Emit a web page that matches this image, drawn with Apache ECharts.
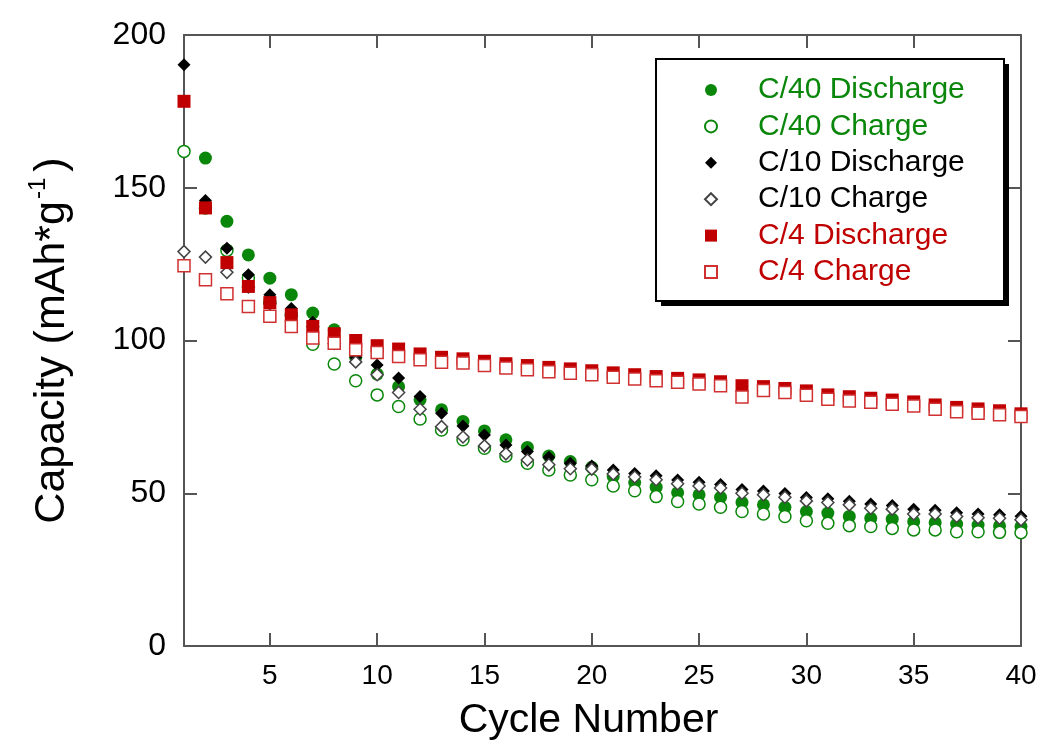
<!DOCTYPE html>
<html>
<head>
<meta charset="utf-8">
<script src="https://cdn.jsdelivr.net/npm/echarts@6/dist/echarts.min.js"></script>
<style>
html,body{margin:0;padding:0;background:#fff;}
#chart{width:1041px;height:749px;}
</style>
</head>
<body>
<div id="chart"></div>
<script>
// ---- data ----
var cycles = [1,2,3,4,5,6,7,8,9,10,11,12,13,14,15,16,17,18,19,20,21,22,23,24,25,26,27,28,29,30,31,32,33,34,35,36,37,38,39,40];
var xTicks = [5,10,15,20,25,30,35,40];
var seriesNames = ['C/40 Discharge','C/40 Charge','C/10 Discharge','C/10 Charge','C/4 Discharge','C/4 Charge'];

var c40Discharge = [null,159.7,139.0,128.0,120.4,115.0,109.0,103.5,94.5,89.0,84.9,80.6,77.3,73.5,70.4,67.5,65.0,62.2,60.4,58.5,55.5,53.5,52.0,50.2,49.5,48.7,47.0,46.2,45.4,44.0,43.5,42.4,41.8,41.5,40.7,40.4,39.9,39.6,39.3,39.1];
var c40Charge    = [161.9,143.4,129.5,120.5,112.5,108.5,98.8,92.3,86.8,82.2,78.4,74.3,70.7,67.5,64.7,62.2,59.8,57.6,56.0,54.4,52.4,50.8,48.9,47.3,46.5,45.4,44.0,43.2,42.4,41.0,40.2,39.4,39.1,38.5,38.0,38.0,37.4,37.4,37.2,37.1];
var c10Discharge = [190.3,145.8,130.2,121.5,115.0,110.5,106.0,101.5,94.5,92.0,87.7,81.7,76.2,72.0,69.1,65.8,63.7,61.8,59.8,58.9,57.6,56.5,55.7,54.3,53.6,52.9,51.2,50.7,49.9,48.6,48.2,47.4,46.5,46.0,44.8,44.4,43.6,43.2,43.0,42.5];
var c10Charge    = [129.1,127.3,122.3,117.5,112.0,108.0,104.5,99.0,93.0,88.8,83.0,77.5,71.8,68.4,65.5,62.9,60.9,59.3,58.0,57.9,56.3,55.3,54.4,53.1,52.4,51.7,50.0,49.5,48.7,47.5,47.0,46.2,45.1,44.8,43.2,43.2,42.4,42.0,41.8,41.3];
var c4Discharge  = [178.3,143.4,125.5,117.7,112.4,108.4,104.6,102.2,100.0,98.3,97.2,95.6,94.5,94.0,93.2,92.4,91.8,91.2,90.7,90.1,89.4,88.8,88.2,87.6,87.1,86.5,85.2,84.9,84.3,83.5,82.2,81.6,81.1,80.5,79.9,78.9,78.1,77.6,77.0,76.0];
var c4Charge     = [124.5,119.9,115.3,111.1,107.9,104.6,100.8,99.1,97.0,96.1,94.8,93.7,92.9,92.6,91.8,91.0,90.4,89.8,89.3,88.8,88.0,87.4,86.8,86.3,85.8,85.2,81.5,83.6,83.0,82.1,80.8,80.2,79.8,79.1,78.6,77.5,76.7,76.2,75.7,75.1];

var GREEN = '#0a870a', RED = '#c00000', BLACK = '#000000';
var FONT = '"Liberation Sans", Arial, Helvetica, sans-serif';

function pairs(vals){
  var out = [];
  for (var i = 0; i < cycles.length; i++) {
    if (vals[i] !== null) out.push([cycles[i], vals[i]]);
  }
  return out;
}

var seriesDefs = [
  {vals: c40Discharge, symbol: 'circle', size: 13, fill: GREEN, stroke: GREEN, lw: 0, txt: GREEN},
  {vals: c40Charge,    symbol: 'circle', size: 12, fill: '#ffffff', stroke: GREEN, lw: 1.5, txt: GREEN},
  {vals: c10Discharge, symbol: 'diamond', size: 13, fill: BLACK, stroke: BLACK, lw: 0, txt: BLACK},
  {vals: c10Charge,    symbol: 'diamond', size: 12, fill: '#ffffff', stroke: '#444444', lw: 1.5, txt: BLACK},
  {vals: c4Discharge,  symbol: 'rect', size: 13, fill: RED, stroke: RED, lw: 0, txt: RED},
  {vals: c4Charge,     symbol: 'rect', size: 12, fill: '#ffffff', stroke: '#d03030', lw: 1.5, txt: RED}
];

var series = seriesDefs.map(function(d, i){
  return {
    name: seriesNames[i],
    type: 'scatter',
    xAxisIndex: 0,
    yAxisIndex: 0,
    symbol: d.symbol,
    symbolSize: d.size,
    itemStyle: {color: d.fill, borderColor: d.stroke, borderWidth: d.lw, opacity: 1},
    emphasis: {disabled: true},
    data: pairs(d.vals),
    z: 2 + i
  };
});

var axisLineStyle = {color: '#555555', width: 2};

var option = {
  animation: false,
  backgroundColor: '#ffffff',
  grid: {left: 184, right: 20, top: 35, bottom: 103, containLabel: false},
  graphic: [
    {type: 'rect', z: 20, silent: true, shape: {x: 661, y: 64, width: 348, height: 242}, style: {fill: '#000000'}},
    {type: 'rect', z: 21, silent: true, shape: {x: 656, y: 59, width: 348, height: 242}, style: {fill: '#ffffff', stroke: '#000000', lineWidth: 2}}
  ],
  legend: {
    orient: 'vertical',
    left: 655,
    top: 58,
    z: 30,
    itemWidth: 12,
    itemHeight: 12,
    itemGap: 6.4,
    padding: [17, 33, 15, 49],
    selectedMode: false,
    textStyle: {fontFamily: FONT, fontSize: 30, lineHeight: 30, padding: [0, 0, 0, 36]},
    data: seriesDefs.map(function(d, i){
      return {name: seriesNames[i], textStyle: {color: d.txt}};
    })
  },
  xAxis: [
    {
      type: 'value', min: 1, max: 40, position: 'bottom',
      axisLine: {show: true, onZero: false, lineStyle: axisLineStyle},
      axisTick: {show: true, inside: true, length: 13, lineStyle: axisLineStyle, customValues: xTicks},
      axisLabel: {show: true, customValues: xTicks, color: '#000', fontFamily: FONT, fontSize: 28, margin: 16},
      splitLine: {show: false},
      name: 'Cycle Number', nameLocation: 'middle', nameGap: 54,
      nameTextStyle: {color: '#000', fontFamily: FONT, fontSize: 41, padding: [0, 28, 0, 0]}
    },
    {
      type: 'value', min: 1, max: 40, position: 'top',
      axisLine: {show: true, onZero: false, lineStyle: axisLineStyle},
      axisTick: {show: true, inside: true, length: 13, lineStyle: axisLineStyle, customValues: xTicks},
      axisLabel: {show: false},
      splitLine: {show: false}
    }
  ],
  yAxis: [
    {
      type: 'value', min: 0, max: 200, interval: 50, position: 'left',
      axisLine: {show: true, onZero: false, lineStyle: axisLineStyle},
      axisTick: {show: true, inside: true, length: 13, lineStyle: axisLineStyle},
      axisLabel: {show: true, color: '#000', fontFamily: FONT, fontSize: 32, margin: 18},
      splitLine: {show: false},
      name: '{b|Capacity (mAh*g}{s|-1}{b|)}', nameLocation: 'middle', nameGap: 110, nameRotate: 90,
      nameTextStyle: {
        color: '#000', fontFamily: FONT, fontSize: 43,
        rich: {
          b: {color: '#000', fontFamily: FONT, fontSize: 43, lineHeight: 48, verticalAlign: 'bottom'},
          s: {color: '#000', fontFamily: FONT, fontSize: 24, lineHeight: 48, verticalAlign: 'top', padding: [0, 6, 0, 2]}
        }
      }
    },
    {
      type: 'value', min: 0, max: 200, interval: 50, position: 'right',
      axisLine: {show: true, onZero: false, lineStyle: axisLineStyle},
      axisTick: {show: true, inside: true, length: 13, lineStyle: axisLineStyle},
      axisLabel: {show: false},
      splitLine: {show: false}
    }
  ],
  series: series
};

var chart = echarts.init(document.getElementById('chart'), null, {renderer: 'canvas'});
chart.setOption(option);
</script>
</body>
</html>
